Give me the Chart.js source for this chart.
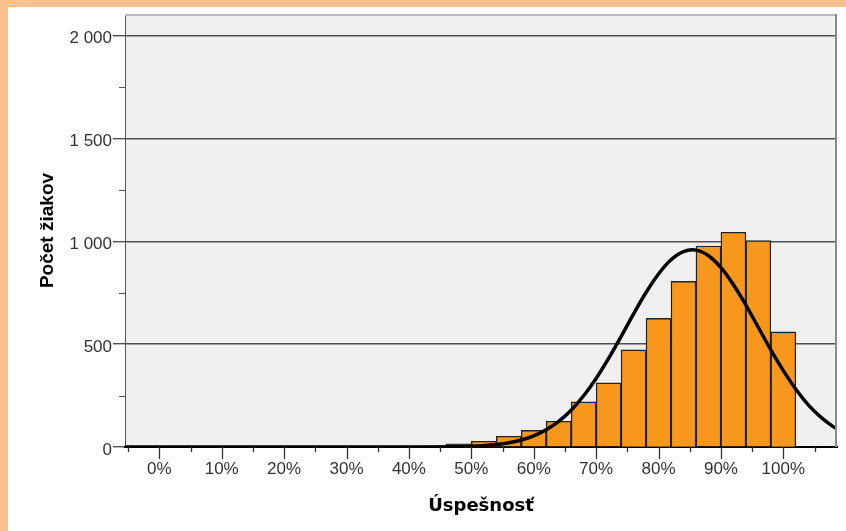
<!DOCTYPE html>
<html>
<head>
<meta charset="utf-8">
<script src="https://cdn.jsdelivr.net/npm/chart.js@4.4.1/dist/chart.umd.min.js"></script>
<style>
  html, body { margin: 0; padding: 0; background: #fff; }
  body {
    width: 846px; height: 531px; box-sizing: border-box;
    border-left: 8px solid #FBC28F; border-top: 7px solid #FBC28F;
    overflow: hidden;
  }
  #chart { display: block; }
</style>
</head>
<body>
<canvas id="chart" width="838" height="524"></canvas>
<script>
// ===== DATA =====
const binCenters = [0, 4, 8, 12, 16, 20, 24, 28, 32, 36, 40, 44, 48, 52, 56, 60, 64, 68, 72, 76, 80, 84, 88, 92, 96, 100];
const studentCounts = [0, 0, 0, 0, 0, 0, 0, 1, 1, 2, 4, 6, 16, 28, 52, 81, 125, 219, 312, 472, 625, 805, 977, 1044, 1003, 560];

// normal curve
const curveX = [-6, 10, 20, 30, 36, 40, 44, 48, 50, 52, 54, 56, 58, 60, 62, 64, 66, 68, 70, 72, 74, 76, 78, 80, 82, 84, 86, 88, 90, 92, 94, 96, 98, 100, 102, 104, 106, 108, 110];
const curveY = [0, 0, 0, 0, 0, 0.1, 0.5, 1.9, 3.6, 6.7, 11.9, 20.4, 33.9, 54, 84, 125, 179, 249, 333, 431, 537, 647, 751, 841, 910, 950, 957, 930, 872, 789, 690, 581, 472, 371, 281, 205, 145, 99, 65];

const xTicks = [-5, 0, 5, 10, 15, 20, 25, 30, 35, 40, 45, 50, 55, 60, 65, 70, 75, 80, 85, 90, 95, 100, 105];
const xLabeled = [0, 10, 20, 30, 40, 50, 60, 70, 80, 90, 100];
const yTicks = [0, 250, 500, 750, 1000, 1250, 1500, 1750, 2000];
const yLabeled = [0, 500, 1000, 1500, 2000];

const tickFont = { family: "'Liberation Sans', Arial, sans-serif", size: 17 };
const hidden = 'rgba(0,0,0,0)';

function fmtThousands(v) {
    return String(v).replace(/\B(?=(\d{3})+(?!\d))/g, ' ');
}

// ===== PLOT FRAME + TICK MARKS =====
const framePlugin = {
    id: 'frame',
    beforeDraw(chart) {
        const {ctx, chartArea: a} = chart;
        ctx.save();
        ctx.fillStyle = '#F0F0F0';
        ctx.fillRect(a.left, a.top, a.right - a.left, a.bottom - a.top);
        ctx.restore();
    },
    afterDraw(chart) {
        const {ctx, chartArea: a, scales} = chart;
        ctx.save();
        ctx.lineWidth = 2;
        ctx.strokeStyle = '#BBBBBB';
        ctx.beginPath();
        ctx.moveTo(a.left, a.top + 1);
        ctx.lineTo(a.right, a.top + 1);
        ctx.stroke();
        ctx.strokeStyle = '#8A8A8A';
        ctx.beginPath();
        ctx.moveTo(a.right - 1, a.top);
        ctx.lineTo(a.right - 1, a.bottom);
        ctx.stroke();

        // x ticks: long at labelled values, short in between
        ctx.lineWidth = 1.3;
        ctx.strokeStyle = '#333';
        xTicks.forEach(v => {
            const x = Math.round(scales.x.getPixelForValue(v)) + 0.5;
            const len = xLabeled.includes(v) ? 12 : 5;
            ctx.beginPath();
            ctx.moveTo(x, a.bottom);
            ctx.lineTo(x, a.bottom + len);
            ctx.stroke();
        });
        // y minor ticks
        ctx.lineWidth = 1;
        ctx.strokeStyle = '#555';
        yTicks.filter(v => !yLabeled.includes(v)).forEach(v => {
            const y = Math.round(scales.y.getPixelForValue(v)) + 0.5;
            ctx.beginPath();
            ctx.moveTo(a.left - 6, y);
            ctx.lineTo(a.left, y);
            ctx.stroke();
        });
        ctx.restore();
    }
};

// ===== CHART =====
const ctx = document.getElementById('chart').getContext('2d');
new Chart(ctx, {
    type: 'bar',
    data: {
        datasets: [
            {
                type: 'line',
                order: 0,
                data: curveX.map((x, i) => ({x, y: curveY[i]})),
                borderColor: '#000',
                borderWidth: 3.5,
                pointRadius: 0,
                tension: 0.4,
                fill: false
            },
            {
                type: 'bar',
                order: 1,
                data: binCenters.map((x, i) => ({x, y: studentCounts[i]})),
                backgroundColor: '#F7981D',
                borderColor: '#222',
                borderWidth: 1.4,
                borderSkipped: 'start',
                barPercentage: 1,
                categoryPercentage: 1
            }
        ]
    },
    options: {
        responsive: false,
        animation: false,
        devicePixelRatio: 1,
        layout: { padding: { left: 0, right: 9, top: 7, bottom: 0 } },
        plugins: { legend: { display: false }, tooltip: { enabled: false } },
        scales: {
            x: {
                type: 'linear',
                offset: false,
                min: -5.5,
                max: 108.6,
                afterBuildTicks: s => { s.ticks = xTicks.map(v => ({value: v})); },
                afterFit: s => { s.height = 84; s.paddingLeft = 0; s.paddingRight = 0; },
                grid: { drawOnChartArea: false, drawTicks: false },
                border: { display: true, color: '#000', width: 2 },
                ticks: {
                    autoSkip: false,
                    maxRotation: 0,
                    padding: 12,
                    color: '#333',
                    font: tickFont,
                    callback: v => xLabeled.includes(v) ? v + '%' : ''
                },
                title: {
                    display: true,
                    text: 'Úspešnosť',
                    color: '#000',
                    font: { family: "'DejaVu Sans', sans-serif", size: 18, weight: 'bold' },
                    padding: { top: 0, bottom: 13.5 }
                }
            },
            y: {
                min: 0,
                max: 2105,
                afterBuildTicks: s => { s.ticks = yTicks.map(v => ({value: v})); },
                afterFit: s => { s.width = 117; s.paddingTop = 0; s.paddingBottom = 0; },
                grid: {
                    drawTicks: true,
                    tickLength: 12,
                    lineWidth: 1.4,
                    color: c => (c.tick && yLabeled.includes(c.tick.value)) ? '#505050' : hidden
                },
                border: { display: true, color: '#555', width: 1 },
                ticks: {
                    autoSkip: false,
                    padding: 1,
                    labelOffset: 3,
                    color: '#333',
                    font: tickFont,
                    callback: v => yLabeled.includes(v) ? fmtThousands(v) : ''
                },
                title: {
                    display: true,
                    text: 'Počet žiakov',
                    color: '#000',
                    font: { family: "'Liberation Sans', Arial, sans-serif", size: 19, weight: 'bold' },
                    padding: { top: 28.5, bottom: 0 }
                }
            }
        }
    },
    plugins: [framePlugin]
});
</script>
</body>
</html>
